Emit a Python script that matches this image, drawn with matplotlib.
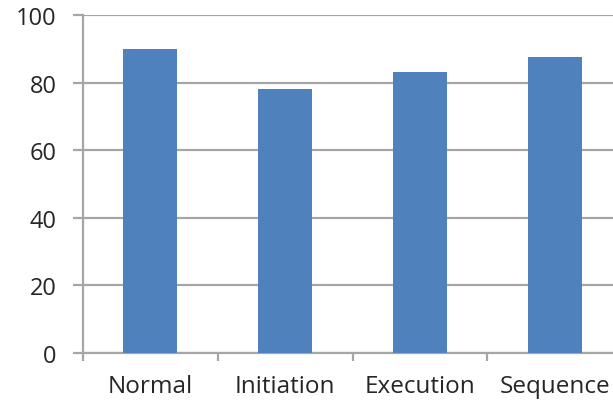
import matplotlib
matplotlib.use("Agg")
import matplotlib.pyplot as plt
import numpy as np

# values
categories = ["Normal", "Initiation", "Execution", "Sequence"]
values = [90, 78, 83, 87.5]
yticks = [0, 20, 40, 60, 80, 100]

plt.rcParams['font.family'] = ['Open Sans', 'DejaVu Sans']

fig = plt.figure(figsize=(6.13, 4.02), dpi=100)
# the original is cut off on the right, so the axes run past the figure edge
ax = fig.add_axes([83 / 613, 1 - 354 / 402, 539 / 613, 338 / 402])

x = np.arange(len(categories))
ax.bar(x, values, width=0.4, color="#4F81BD", zorder=3)

grid_color = "#A6A6A6"
ax.set_ylim(0, 100)
ax.set_xlim(-0.5, len(categories) - 0.5)
ax.set_yticks(yticks)
ax.yaxis.grid(True, color=grid_color, linewidth=1.6, zorder=0)

ax.set_xticks(np.arange(len(categories) + 1) - 0.5)
ax.set_xticklabels([])
ax.set_xticks(x, minor=True)
ax.set_xticklabels(categories, minor=True)

for side in ["top", "right"]:
    ax.spines[side].set_visible(False)
for side in ["left", "bottom"]:
    ax.spines[side].set_color(grid_color)
    ax.spines[side].set_linewidth(1.6)

ax.tick_params(axis="y", length=7, width=1.6, color=grid_color, pad=12,
               labelsize=17, labelcolor="#262626")
ax.tick_params(axis="x", which="major", length=6, width=1.6, color=grid_color)
ax.tick_params(axis="x", which="minor", length=0, pad=15,
               labelsize=17.5, labelcolor="#262626")

fig.savefig("out.png", dpi=100)
